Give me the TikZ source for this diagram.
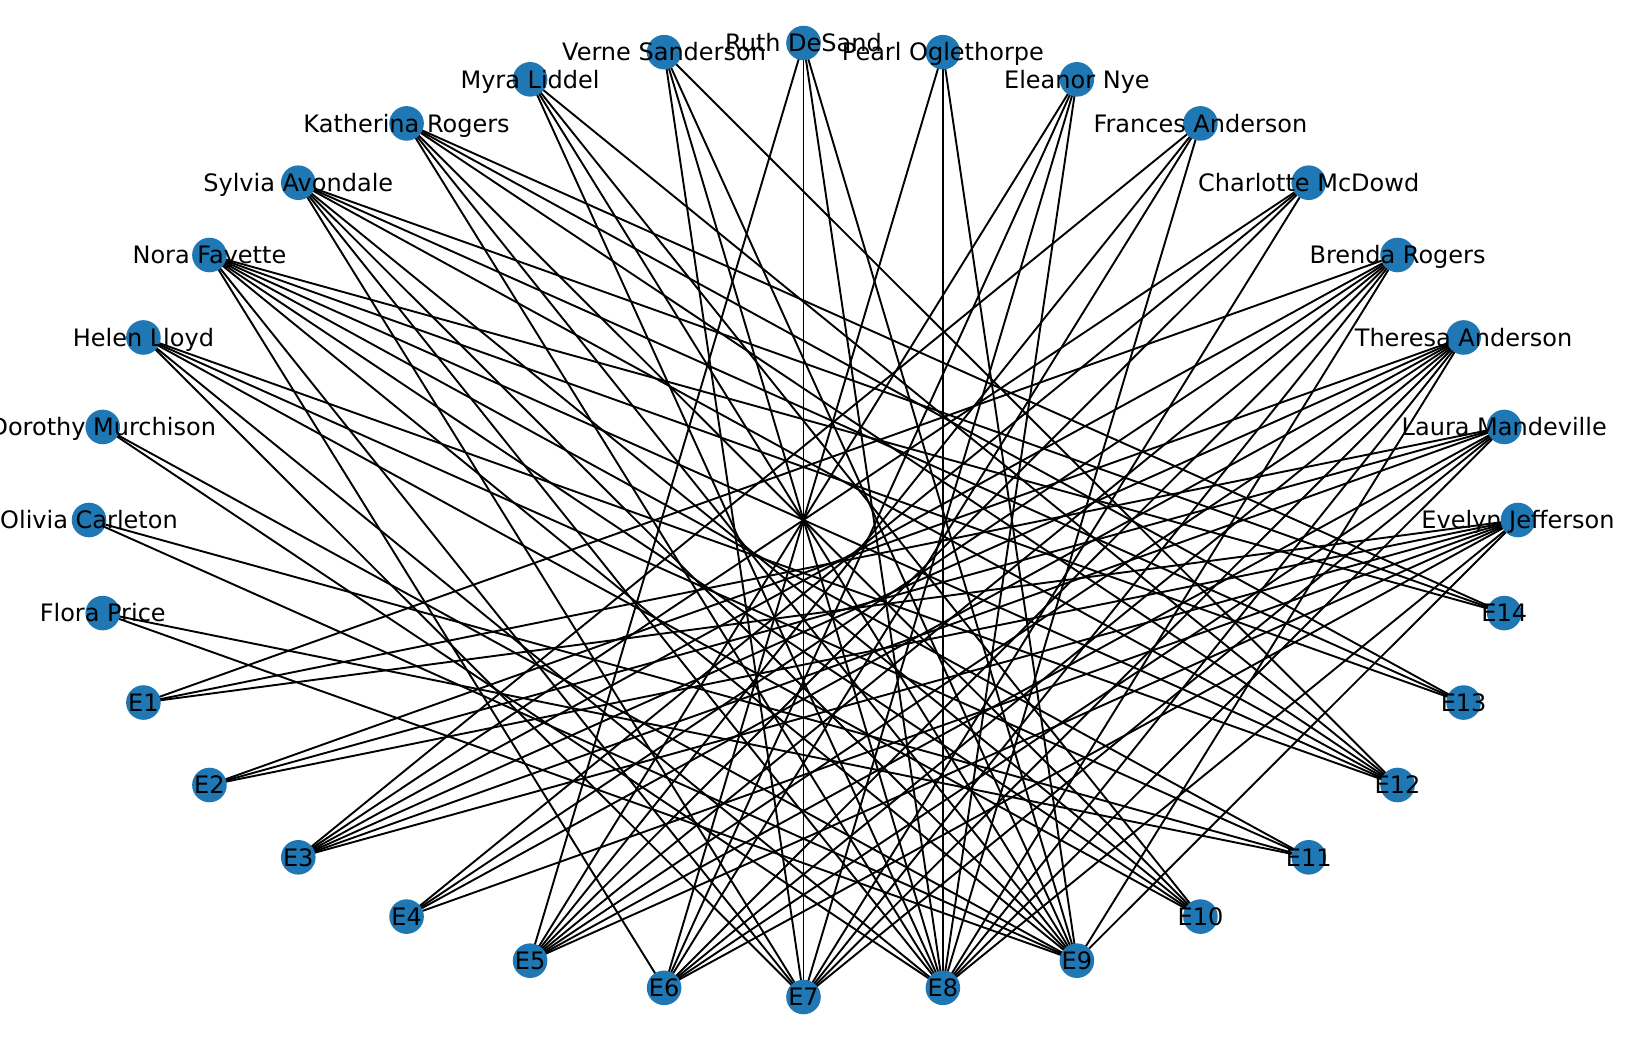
\documentclass[tikz,border=0pt]{standalone}
\usepackage{fontspec}
\setmainfont{DejaVu Sans}
\pgfdeclarelayer{bg}
\pgfsetlayers{bg,main}
\definecolor{nodeblue}{HTML}{1F77B4}
\tikzset{
  vertex/.style={circle, fill=nodeblue, draw=none, minimum size=34.6pt, inner sep=0pt},
  vlabel/.style={inner sep=0pt, anchor=center, text height=17.4pt, text depth=0pt, font=\fontsize{24}{28}\selectfont, text=black},
  edge/.style={draw=black, line width=1.9pt}
}
\begin{document}
\begin{tikzpicture}[x=1pt,y=-1pt]
\useasboundingbox (0,0) rectangle (1641,1042);
\foreach \i/\lab in {0/Evelyn Jefferson,1/Laura Mandeville,2/Theresa Anderson,3/Brenda Rogers,4/Charlotte McDowd,5/Frances Anderson,6/Eleanor Nye,7/Pearl Oglethorpe,8/Ruth DeSand,9/Verne Sanderson,10/Myra Liddel,11/Katherina Rogers,12/Sylvia Avondale,13/Nora Fayette,14/Helen Lloyd,15/Dorothy Murchison,16/Olivia Carleton,17/Flora Price,18/E1,19/E2,20/E3,21/E4,22/E5,23/E6,24/E7,25/E8,26/E9,27/E10,28/E11,29/E12,30/E13,31/E14}{
  \node[vertex] (n\i) at ({803.5+714.5*cos(\i*11.25)},{520-477*sin(\i*11.25)}) {};
}
\begin{pgfonlayer}{bg}
\foreach \a/\bl in {0/{18,19,20,21,22,23,25,26},1/{18,19,20,22,23,24,25},2/{19,20,21,22,23,24,25,26},3/{18,20,21,22,23,24,25},4/{20,21,22,24},5/{20,22,23,25},6/{22,23,24,25},7/{23,25,26},8/{22,24,25,26},9/{24,25,26,29},10/{25,26,27,29},11/{25,26,27,29,30,31},12/{24,25,26,27,29,30,31},13/{23,24,26,27,28,29,30,31},14/{24,25,27,28,29},15/{25,26},16/{26,28},17/{26,28}}{
  \foreach \b in \bl {
    \draw[edge] (n\a.center) -- (n\b.center);
  }
}
\end{pgfonlayer}
\foreach \i/\lab in {0/Evelyn Jefferson,1/Laura Mandeville,2/Theresa Anderson,3/Brenda Rogers,4/Charlotte McDowd,5/Frances Anderson,6/Eleanor Nye,7/Pearl Oglethorpe,8/Ruth DeSand,9/Verne Sanderson,10/Myra Liddel,11/Katherina Rogers,12/Sylvia Avondale,13/Nora Fayette,14/Helen Lloyd,15/Dorothy Murchison,16/Olivia Carleton,17/Flora Price,18/E1,19/E2,20/E3,21/E4,22/E5,23/E6,24/E7,25/E8,26/E9,27/E10,28/E11,29/E12,30/E13,31/E14}{
  \node[vlabel] (l\i) at (n\i.center) {\lab};
}
\end{tikzpicture}
\end{document}
